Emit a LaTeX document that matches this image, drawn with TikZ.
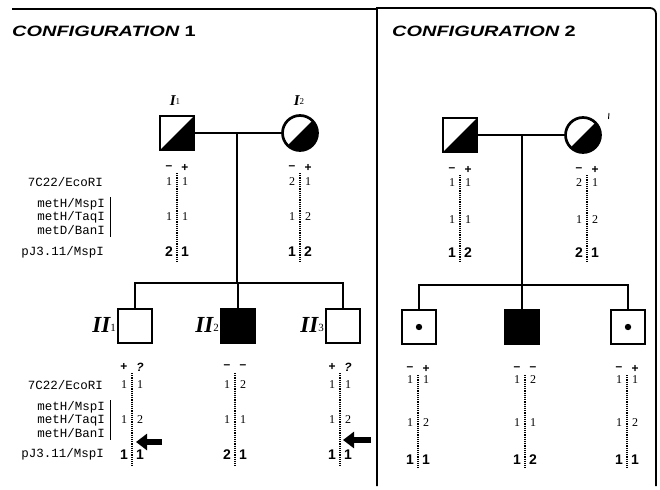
\documentclass[tikz,border=0pt]{standalone}
\usepackage{fontspec}
\setmainfont{Liberation Serif}
\setsansfont{Liberation Sans}
\setmonofont{Liberation Mono}
\usetikzlibrary{arrows.meta}

% one pair of alleles: #1 name, #2 x of the dotted line, #3 y, #4 left, #5 right, #6 style
\newcommand\gtpair[6]{%
  \node[#6] (#1l) at ({#2-8},#3) {#4};
  \node[#6] (#1r) at ({#2+8},#3) {#5};}
% dotted separator between the two haplotypes
\newcommand\gtline[3]{\draw[hapdots] (#1,#2) -- (#1,#3);}
\newcommand\mns{\textbf{–}}

\begin{document}
\begin{tikzpicture}[x=1pt,y=-1pt,
  frame/.style={line width=1.8pt},
  link/.style={line width=2.3pt},
  male/.style={draw, rectangle, line width=2.7pt, minimum size=34pt, inner sep=0pt},
  female/.style={draw, circle, line width=2.7pt, minimum size=35pt, inner sep=0pt},
  carrier/.style={path picture={\fill (path picture bounding box.south west)
      -- (path picture bounding box.north east) -- (path picture bounding box.south east) -- cycle;}},
  affected/.style={fill=black},
  title/.style={anchor=base west, inner sep=0pt, font=\sffamily\bfseries\fontsize{15}{15}\selectfont},
  gen/.style={inner sep=0pt, font=\bfseries\itshape\fontsize{15}{15}\selectfont},
  kid/.style={inner sep=0pt, anchor=east, font=\bfseries\itshape\fontsize{23}{23}\selectfont},
  locus/.style={anchor=east, inner sep=0pt, font=\ttfamily\fontsize{12.5}{12.5}\selectfont},
  num/.style={inner sep=0pt, font=\fontsize{12}{12}\selectfont},
  bnum/.style={inner sep=0pt, font=\sffamily\bfseries\fontsize{14}{14}\selectfont},
  sgn/.style={inner sep=0pt, font=\sffamily\bfseries\fontsize{12}{12}\selectfont},
  hapdots/.style={line width=1.7pt, dash pattern=on 1.1pt off 1.1pt},
  pointer/.style={line width=6pt, -{Triangle[length=11pt,width=16pt]}},
]
\useasboundingbox (0,0) rectangle (660,489);

% ---------- panel frames ----------
\draw[frame] (12,9) -- (377,9);
\draw[frame] (377,486) -- (377,8) -- (650,8) to[out=0,in=90] (656,14) -- (656,486);

% ---------- titles ----------
\node[title] (t1) at (12,37) {\scalebox{1.33}[1]{\itshape CONFIGURATION \upshape 1}};
\node[title] (t2) at (392,37) {\scalebox{1.33}[1]{\itshape CONFIGURATION \upshape 2}};

% ================= configuration 1 =================
\node[male, carrier] (a1) at (177,133) {};
\node[female, carrier] (a2) at (300,133) {};
\node[gen] (la1) at (175,101) {I\raisebox{1pt}{\upshape\mdseries\fontsize{9}{9}\selectfont 1}};
\node[gen] (la2) at (299,101) {I\raisebox{1pt}{\upshape\mdseries\fontsize{9}{9}\selectfont 2}};
\draw[link] (a1) -- (a2);
\coordinate (am) at (237,133);
\coordinate (as) at (237,283);
\draw[link] (am) -- (as);

\node[male] (b1) at (135,326) {};
\node[male, affected] (b2) at (238,326) {};
\node[male] (b3) at (343,326) {};
\draw[link] (b1.north) |- (as) -| (b3.north);
\draw[link] (as) -| (b2.north);
\node[kid] (lb1) at (116,325) {II\raisebox{1pt}{\upshape\mdseries\fontsize{11}{11}\selectfont 1}};
\node[kid] (lb2) at (219,325) {II\raisebox{1pt}{\upshape\mdseries\fontsize{11}{11}\selectfont 2}};
\node[kid] (lb3) at (324,325) {II\raisebox{1pt}{\upshape\mdseries\fontsize{11}{11}\selectfont 3}};

% marker names, parents
\node[locus] (m1) at (103,182) {7C22/EcoRI};
\node[locus] (m2) at (105,204) {metH/MspI};
\node[locus] (m3) at (105,217) {metH/TaqI};
\node[locus] (m4) at (105,230) {metD/BanI};
\node[locus] (m5) at (104,252) {pJ3.11/MspI};
\draw[line width=0.9pt] (110,197) -- (110,237);

% marker names, offspring
\node[locus] (n1) at (103,385) {7C22/EcoRI};
\node[locus] (n2) at (105,407) {metH/MspI};
\node[locus] (n3) at (105,420) {metH/TaqI};
\node[locus] (n4) at (105,433) {metH/BanI};
\node[locus] (n5) at (104,454) {pJ3.11/MspI};
\draw[line width=0.9pt] (110,400) -- (110,440);

% haplotypes I1
\gtline{177}{173}{263}
\gtpair{ha1s}{177}{168}{\mns}{+}{sgn}
\gtpair{ha1a}{177}{182}{1}{1}{num}
\gtpair{ha1b}{177}{217}{1}{1}{num}
\gtpair{ha1c}{177}{252}{2}{1}{bnum}
% haplotypes I2
\gtline{300}{173}{263}
\gtpair{ha2s}{300}{168}{\mns}{+}{sgn}
\gtpair{ha2a}{300}{182}{2}{1}{num}
\gtpair{ha2b}{300}{217}{1}{2}{num}
\gtpair{ha2c}{300}{252}{1}{2}{bnum}

% haplotypes II1
\gtline{132}{373}{466}
\gtpair{hb1s}{132}{367}{+}{\itshape ?}{sgn}
\gtpair{hb1a}{132}{385}{1}{1}{num}
\gtpair{hb1b}{132}{420}{1}{2}{num}
\gtpair{hb1c}{132}{455}{1}{1}{bnum}
% haplotypes II2
\gtline{235}{373}{466}
\gtpair{hb2s}{235}{367}{\mns}{\mns}{sgn}
\gtpair{hb2a}{235}{385}{1}{2}{num}
\gtpair{hb2b}{235}{420}{1}{1}{num}
\gtpair{hb2c}{235}{455}{2}{1}{bnum}
% haplotypes II3
\gtline{340}{373}{466}
\gtpair{hb3s}{340}{367}{+}{\itshape ?}{sgn}
\gtpair{hb3a}{340}{385}{1}{1}{num}
\gtpair{hb3b}{340}{420}{1}{2}{num}
\gtpair{hb3c}{340}{455}{1}{1}{bnum}

% recombination pointers
\coordinate (p1s) at (162,442);
\coordinate (p1e) at (136,442);
\draw[pointer] (p1s) -- (p1e);
\coordinate (p3s) at (371,440);
\coordinate (p3e) at (343,440);
\draw[pointer] (p3s) -- (p3e);

% ================= configuration 2 =================
\node[male, carrier] (c1) at (460,135) {};
\node[female, carrier] (c2) at (583,135) {};
\draw[line width=0.9pt] (609,113) -- (608.5,119);
\draw[link] (c1) -- (c2);
\coordinate (cm) at (522,135);
\coordinate (cs) at (522,285);
\draw[link] (cm) -- (cs);

\node[male] (d1) at (419,327) {};
\node[male, affected] (d2) at (522,327) {};
\node[male] (d3) at (628,327) {};
\fill (d1) circle (3.2pt);
\fill (d3) circle (3.2pt);
\draw[link] (d1.north) |- (cs) -| (d3.north);
\draw[link] (cs) -- (d2.north);

% haplotypes, parents
\gtline{460}{175}{262}
\gtpair{hc1s}{460}{170}{\mns}{+}{sgn}
\gtpair{hc1a}{460}{183}{1}{1}{num}
\gtpair{hc1b}{460}{220}{1}{1}{num}
\gtpair{hc1c}{460}{253}{1}{2}{bnum}
\gtline{587}{175}{262}
\gtpair{hc2s}{587}{170}{\mns}{+}{sgn}
\gtpair{hc2a}{587}{183}{2}{1}{num}
\gtpair{hc2b}{587}{220}{1}{2}{num}
\gtpair{hc2c}{587}{253}{2}{1}{bnum}

% haplotypes, offspring
\gtline{418}{375}{468}
\gtpair{hd1s}{418}{369}{\mns}{+}{sgn}
\gtpair{hd1a}{418}{380}{1}{1}{num}
\gtpair{hd1b}{418}{423}{1}{2}{num}
\gtpair{hd1c}{418}{460}{1}{1}{bnum}
\gtline{525}{375}{468}
\gtpair{hd2s}{525}{369}{\mns}{\mns}{sgn}
\gtpair{hd2a}{525}{380}{1}{2}{num}
\gtpair{hd2b}{525}{423}{1}{1}{num}
\gtpair{hd2c}{525}{460}{1}{2}{bnum}
\gtline{627}{375}{468}
\gtpair{hd3s}{627}{369}{\mns}{+}{sgn}
\gtpair{hd3a}{627}{380}{1}{1}{num}
\gtpair{hd3b}{627}{423}{1}{2}{num}
\gtpair{hd3c}{627}{460}{1}{1}{bnum}
\end{tikzpicture}
\end{document}
